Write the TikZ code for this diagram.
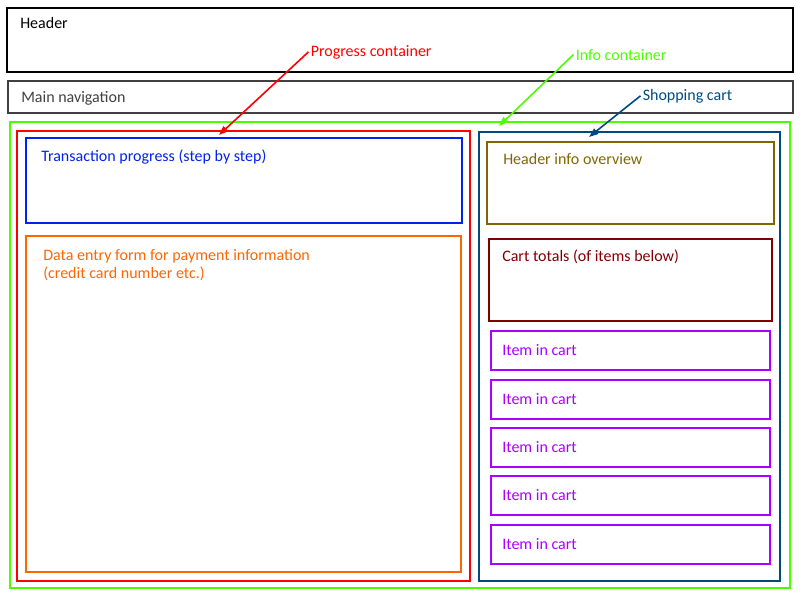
\documentclass[tikz,border=0pt]{standalone}
\usepackage{fontspec}
\setmainfont{Carlito}
\usetikzlibrary{arrows.meta}
\definecolor{navgray}{HTML}{404040}
\definecolor{pgred}{HTML}{FF0000}
\definecolor{infogreen}{HTML}{4CFF00}
\definecolor{cartblue}{HTML}{004A80}
\definecolor{trblue}{HTML}{0022EE}
\definecolor{formorange}{HTML}{FF6600}
\definecolor{olive}{HTML}{806600}
\definecolor{darkred}{HTML}{800000}
\definecolor{itempurple}{HTML}{AA00FF}
\tikzset{
  box/.style={line width=1.5pt},
  lbl/.style={inner sep=0pt, anchor=base west, font=\fontsize{12pt}{13.7pt}\selectfont, align=left},
  callout/.style={inner sep=1.5pt, anchor=base west, font=\fontsize{12pt}{13.7pt}\selectfont},
  pointer/.style={line width=1.2pt, -{Triangle[length=7pt,width=5pt]}}
}
\begin{document}
\begin{tikzpicture}[x=0.75pt,y=-0.75pt]
\useasboundingbox (0,0) rectangle (800,600);
% header and nav
\draw[box,black] (7,8) rectangle (793,72);
\node[lbl,black] (header) at (20,28) {Header};
\draw[box,navgray] (8,81) rectangle (793,113);
\node[lbl,navgray] (nav) at (21,102) {Main navigation};
% info (outer) container
\draw[box,infogreen] (10,122) rectangle (790,588);
\coordinate (infotip) at (499,126);
% progress container
\draw[box,pgred] (17,131) rectangle (470,581);
\coordinate (progtip) at (219,135);
\draw[box,trblue] (26,138) rectangle (462,223);
\node[lbl,trblue] (trans) at (41,161) {Transaction progress (step by step)};
\draw[box,formorange] (26,236) rectangle (461,572);
\node[lbl,formorange,anchor=north west] (form) at (43,249) {Data entry form for payment information\\(credit card number etc.)};
% shopping cart
\draw[box,cartblue] (479,132) rectangle (780,581);
\coordinate (carttip) at (589,137);
\draw[box,olive] (487,142) rectangle (774,224);
\node[lbl,olive] (hinfo) at (503,164) {Header info overview};
\draw[box,darkred] (489,239) rectangle (772,321);
\node[lbl,darkred] (totals) at (502,261) {Cart totals (of items below)};
\foreach \t/\n in {331/1,380/2,428/3,476/4,525/5}{
  \draw[box,itempurple] (491,\t) rectangle (770,\t+39);
  \node[lbl,itempurple] (item\n) at (502,\t+24) {Item in cart};
}
% callouts
\node[callout,pgred] (plab) at (308.5,56) {Progress container};
\draw[pointer,pgred] (plab.west) -- (progtip);
\node[callout,infogreen] (ilab) at (573.5,60) {Info container};
\draw[pointer,infogreen] (ilab.west) -- (infotip);
\node[callout,cartblue] (clab) at (640.5,100) {Shopping cart};
\draw[pointer,cartblue] (clab.west) -- (carttip);
\end{tikzpicture}
\end{document}
